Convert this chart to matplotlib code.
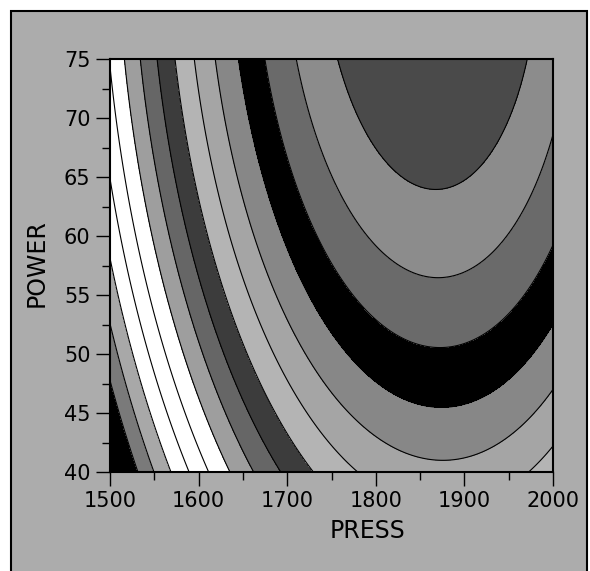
import numpy as np
import matplotlib
matplotlib.use('Agg')
import matplotlib.pyplot as plt
from matplotlib.patches import Rectangle

c_press = [1759.6, 1774.6, 1869, 1948, 1971,
           1718, 1870, 2000,
           1671.6, 1760, 1870, 2000,
           1638.8, 1720, 1865, 2000,
           1615, 1686, 1890, 2000,
           1592.6, 1649, 1788, 1985,
           1571, 1626, 1732.5,
           1548.5, 1604, 1706.5,
           1531.6, 1575.6, 1661.4,
           1513.5, 1543, 1565.5, 1630,
           1503, 1530, 1551, 1610.6,
           1500, 1511, 1532, 1592.6,
           1500, 1517, 1571,
           1500, 1550.8,
           1500, 1530.5]
c_power = [75, 71.1, 65.3, 69.7, 75,
           75, 58.1, 68.3,
           75, 55.6, 51.8, 59.2,
           75, 55.6, 46.3, 52.7,
           75, 55.6, 41.4, 45.3,
           75, 55.6, 40, 40,
           75, 55.6, 40,
           75, 55.6, 40,
           75, 55.6, 40,
           75, 60.5, 52, 40,
           75, 60.5, 52, 40,
           70.7, 60.5, 52, 40,
           63, 52, 40,
           52.6, 40,
           47.8, 40]
c_level = [1, 1, 1, 1, 1,
           2, 2, 2,
           3, 3, 3, 3,
           4, 4, 4, 4,
           5, 5, 5, 5,
           6, 6, 6, 6,
           7, 7, 7,
           8, 8, 8,
           9, 9, 9,
           10, 10, 10, 10,
           11, 11, 11, 11,
           12, 12, 12, 12,
           13, 13, 13,
           14, 14,
           15, 15]

# fill of each band, from the bottom-left corner up to the top-right centre
band_colors = ['#000000', '#7a7a7a', '#a8a8a8', '#ffffff', '#ffffff', '#ffffff',
               '#9e9e9e', '#666666', '#3c3c3c', '#b4b4b4', '#a5a5a5', '#878787',
               '#000000', '#6a6a6a', '#8c8c8c', '#4a4a4a']

press_ticks = [1500, 1600, 1700, 1800, 1900, 2000]
press_minor = [1550, 1650, 1750, 1850, 1950]
power_ticks = [40, 45, 50, 55, 60, 65, 70, 75]
power_minor = [42.5, 47.5, 52.5, 57.5, 62.5, 67.5, 72.5]

bg = '#acacac'

# quadratic response surface through the traced contours
u = (np.array(c_press) - 1750) / 250
v = (np.array(c_power) - 57.5) / 17.5
A = np.column_stack([np.ones_like(u), u, v, u * u, u * v, v * v])
coef, *_ = np.linalg.lstsq(A, -np.array(c_level, dtype=float), rcond=None)

PX, PW = np.meshgrid(np.linspace(1500, 2000, 500), np.linspace(40, 75, 400))
U = (PX - 1750) / 250
V = (PW - 57.5) / 17.5
Z = coef[0] + coef[1] * U + coef[2] * V + coef[3] * U * U + coef[4] * U * V + coef[5] * V * V

lines = list(range(-15, 0))
levels = [min(Z.min(), -16) - 1] + lines + [max(Z.max(), 0) + 1]

fig = plt.figure(figsize=(5.9, 5.71), dpi=100)
fig.patch.set_facecolor('white')
fig.add_artist(Rectangle((11 / 590, -0.05), 576 / 590, 1.05 - 11 / 571,
                         transform=fig.transFigure, facecolor=bg,
                         edgecolor='black', lw=1.5, zorder=-10))

ax = fig.add_axes([110 / 590, 1 - 472 / 571, 443 / 590, 413 / 571])
ax.contourf(PX, PW, Z, levels=levels, colors=band_colors)
ax.contour(PX, PW, Z, levels=lines, colors='black', linewidths=0.8, linestyles='solid')

ax.set_xlim(1500, 2000)
ax.set_ylim(40, 75)
ax.set_xticks(press_ticks)
ax.set_xticks(press_minor, minor=True)
ax.set_yticks(power_ticks)
ax.set_yticks(power_minor, minor=True)
ax.tick_params(which='major', direction='out', length=10, width=1, labelsize=15, pad=4)
ax.tick_params(which='minor', direction='out', length=6, width=1)
for s in ax.spines.values():
    s.set_linewidth(1.5)

fig.text(368 / 590, 1 - 531 / 571, 'PRESS', ha='center', va='center', fontsize=17)
fig.text(37 / 590, 1 - 263 / 571, 'POWER', ha='center', va='center', fontsize=17, rotation=90)

fig.savefig('out.png', dpi=100, facecolor=fig.get_facecolor())
